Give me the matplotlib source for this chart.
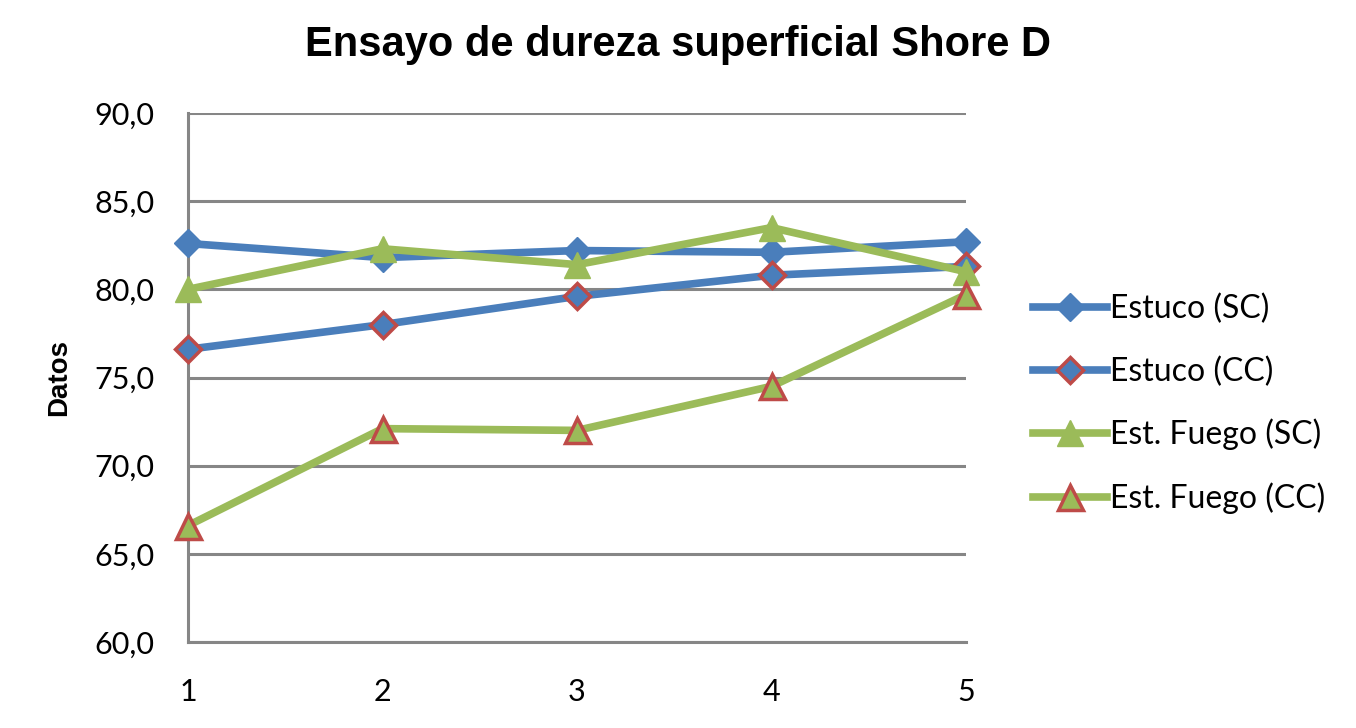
import matplotlib.pyplot as plt

# data
ensayos = [1, 2, 3, 4, 5]
estuco_sc = [82.6, 81.8, 82.2, 82.1, 82.7]
estuco_cc = [76.6, 78.0, 79.6, 80.8, 81.3]
fuego_sc = [80.0, 82.3, 81.4, 83.5, 81.0]
fuego_cc = [66.6, 72.1, 72.0, 74.5, 79.7]
y_ticks = [60, 65, 70, 75, 80, 85, 90]

azul = '#4a7ebb'
verde = '#9bbb59'
rojo = '#be4b48'

plt.rcParams['font.family'] = ['Lato', 'DejaVu Sans']

fig = plt.figure(figsize=(13.56, 7.28), dpi=100)
ax = fig.add_axes([188 / 1356, 1 - 642 / 728, (966 - 188) / 1356, (642 - 113) / 728])

ax.plot(ensayos, estuco_sc, color=azul, lw=5.5, marker='D', ms=14,
        mfc=azul, mec=azul, label='Estuco (SC)', zorder=3, clip_on=False)
ax.plot(ensayos, estuco_cc, color=azul, lw=5.5, marker='D', ms=13,
        mfc=azul, mec=rojo, mew=2.5, label='Estuco (CC)', zorder=3, clip_on=False)
ax.plot(ensayos, fuego_sc, color=verde, lw=5.5, marker='^', ms=19,
        mfc=verde, mec=verde, label='Est. Fuego (SC)', zorder=4, clip_on=False)
ax.plot(ensayos, fuego_cc, color=verde, lw=5.5, marker='^', ms=18,
        mfc=verde, mec=rojo, mew=2.5, label='Est. Fuego (CC)', zorder=4, clip_on=False)

ax.set_xlim(1, 5)
ax.set_ylim(60, 90)
ax.set_xticks(ensayos)
ax.set_yticks(y_ticks)
ax.set_yticklabels([f'{v:.1f}'.replace('.', ',') for v in y_ticks])
ax.tick_params(labelsize=22, length=0)
ax.tick_params(axis='y', pad=24)
ax.tick_params(axis='x', pad=26)

ax.grid(axis='y', color='#868686', lw=2.2)
ax.set_axisbelow(True)
for s in ['top', 'right']:
    ax.spines[s].set_visible(False)
for s in ['left', 'bottom']:
    ax.spines[s].set_color('#868686')
    ax.spines[s].set_linewidth(2.2)

ax.set_ylabel('Datos', fontsize=20, fontweight='bold', labelpad=16,
              family=['Liberation Sans', 'DejaVu Sans'])
fig.suptitle('Ensayo de dureza superficial Shore D', fontsize=30, fontweight='bold',
             family=['Liberation Sans', 'DejaVu Sans'], y=0.965)

ax.legend(loc='center left', bbox_to_anchor=(1.07, 0.45), frameon=False,
          fontsize=23, handlelength=2.3, handletextpad=0.1, labelspacing=1.0,
          borderaxespad=0)

fig.savefig('out.png', dpi=100)
